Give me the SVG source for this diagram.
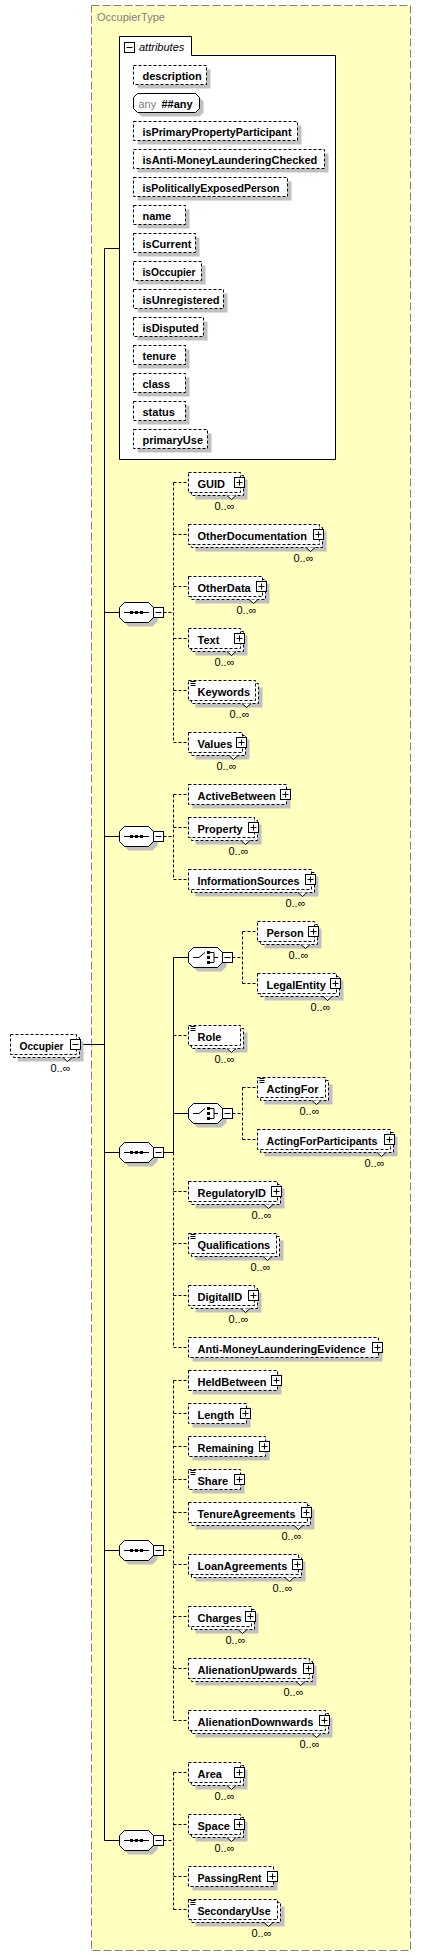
<svg xmlns="http://www.w3.org/2000/svg" width="421" height="1956" viewBox="0 0 421 1956">
<style>
.bx{fill:#fff;stroke:#000;stroke-width:1;stroke-dasharray:3,2}
.ab{fill:#fff;stroke:#000;stroke-width:1}
.shd{fill:#c0c0c0}
.nt{fill:#fff;stroke:#000;stroke-width:1}
.lb{font-family:"Liberation Sans",Arial,sans-serif;font-size:11px;font-weight:bold;fill:#000}
.oc{font-family:"Liberation Sans",Arial,sans-serif;font-size:11px;fill:#000;text-anchor:end}
.sc{fill:none;stroke:#000;stroke-width:1}
.dc{fill:none;stroke:#000;stroke-width:1;stroke-dasharray:3,2}
</style>
<defs>
<g id="pl"><rect x="0" y="0" width="10" height="10" fill="#fff" stroke="#000"/><path d="M2,5H8M5,2V8" stroke="#000" fill="none"/></g>
<g id="mi"><rect x="0" y="0" width="10" height="10" fill="#fff" stroke="#000"/><path d="M2,5H8" stroke="#000" fill="none"/></g>
<path id="doc" d="M2,1h5M2,3h5M2,5h5" stroke="#000" fill="none"/>
<polygon id="oct" points="5,0 29,0 34,5 34,15 29,20 5,20 0,15 0,5"/>
<g id="seq">
<use href="#oct" x="4" y="4" fill="#c0c0c0"/>
<use href="#oct" fill="#fff" stroke="#000"/>
<path d="M4.5,10H29.5" stroke="#000" fill="none"/>
<rect x="10.5" y="8.5" width="3" height="3" fill="#000"/>
<rect x="15.5" y="8.5" width="3" height="3" fill="#000"/>
<rect x="20.5" y="8.5" width="3" height="3" fill="#000"/>
<use href="#mi" x="34" y="5"/>
</g>
<g id="cho">
<use href="#oct" x="4" y="4" fill="#c0c0c0"/>
<use href="#oct" fill="#fff" stroke="#000"/>
<path d="M4.5,10H10.5L16.5,5M21.5,5H25.5V15H21.5M25.5,10H29.5" stroke="#000" fill="none"/>
<rect x="18.5" y="3.5" width="3" height="3" fill="#000"/>
<rect x="18.5" y="8.5" width="3" height="3" fill="#000"/>
<rect x="18.5" y="13.5" width="3" height="3" fill="#000"/>
<use href="#mi" x="34" y="5"/>
</g>
</defs>

<g id="OccupierType">
<rect x="91.5" y="5.5" width="319" height="1945" fill="#ffffc0" stroke="#808080" stroke-dasharray="8,3"/>
<text x="97" y="21" font-family="'Liberation Sans',Arial,sans-serif" font-size="11" fill="#808080">OccupierType</text>
</g>

<g id="connectors">
<path class="sc" d="M104.5,248.5V1840.5M104.5,248.5H119.5M80.5,1044.5H104.5M104.5,612.5H119.5M104.5,836.5H119.5M104.5,1152.5H119.5M104.5,1550.5H119.5M104.5,1840.5H119.5"/>
<path class="dc" d="M163.5,612.5H173.5M173.5,482.5V742.5M173.5,482.5H188.5M173.5,534.5H188.5M173.5,586.5H188.5M173.5,638.5H188.5M173.5,690.5H188.5M173.5,742.5H188.5"/>
<path class="dc" d="M163.5,836.5H173.5M173.5,794.5V879.5M173.5,794.5H188.5M173.5,827.5H188.5M173.5,879.5H188.5"/>
<path class="sc" d="M163.5,1152.5H173.5M173.5,957.5V1152.5M173.5,957.5H188.5M173.5,1113.5H188.5"/>
<path class="dc" d="M173.5,1152.5V1347.5M173.5,1035.5H188.5M173.5,1191.5H188.5M173.5,1243.5H188.5M173.5,1295.5H188.5M173.5,1347.5H188.5"/>
<path class="dc" d="M232.5,957.5H242.5M242.5,931.5V983.5M242.5,931.5H257.5M242.5,983.5H257.5"/>
<path class="dc" d="M232.5,1113.5H242.5M242.5,1087.5V1139.5M242.5,1087.5H257.5M242.5,1139.5H257.5"/>
<path class="dc" d="M163.5,1550.5H173.5M173.5,1380.5V1720.5M173.5,1380.5H188.5M173.5,1413.5H188.5M173.5,1446.5H188.5M173.5,1479.5H188.5M173.5,1512.5H188.5M173.5,1564.5H188.5M173.5,1616.5H188.5M173.5,1668.5H188.5M173.5,1720.5H188.5"/>
<path class="dc" d="M163.5,1840.5H173.5M173.5,1772.5V1909.5M173.5,1772.5H188.5M173.5,1824.5H188.5M173.5,1876.5H188.5M173.5,1909.5H188.5"/>
</g>

<g id="attributes">
<path d="M119.5,459.5V36.5H191.5V55.5H335.5V459.5Z" fill="#fff" stroke="#000"/>
<use href="#mi" x="124.5" y="42.5"/>
<text x="139" y="50.5" font-family="'Liberation Sans',Arial,sans-serif" font-size="11" font-style="italic" fill="#000">attributes</text>
</g>

<g id="a-description"><rect class="shd" x="137.5" y="69.5" width="73" height="19"/><rect class="bx" x="133.5" y="65.5" width="73" height="19"/><text class="lb" x="142.5" y="79.5">description</text></g>
<g id="a-any"><polygon class="shd" points="141.5,97.5 199.5,97.5 203.5,101.5 203.5,112.5 199.5,116.5 141.5,116.5 137.5,112.5 137.5,101.5"/><polygon class="ab" points="137.5,93.5 195.5,93.5 199.5,97.5 199.5,108.5 195.5,112.5 137.5,112.5 133.5,108.5 133.5,97.5"/><text x="138.5" y="107.5" font-family="'Liberation Sans',Arial,sans-serif" font-size="11" fill="#808080">any</text><text class="lb" x="161.5" y="107.5">##any</text></g>
<g id="a-isPrimaryPropertyParticipant"><rect class="shd" x="137.5" y="125.5" width="164" height="19"/><rect class="bx" x="133.5" y="121.5" width="164" height="19"/><text class="lb" x="142.5" y="135.5" textLength="149" lengthAdjust="spacingAndGlyphs">isPrimaryPropertyParticipant</text></g>
<g id="a-isAnti-MoneyLaunderingChecked"><rect class="shd" x="137.5" y="153.5" width="191" height="19"/><rect class="bx" x="133.5" y="149.5" width="191" height="19"/><text class="lb" x="142.5" y="163.5">isAnti-MoneyLaunderingChecked</text></g>
<g id="a-isPoliticallyExposedPerson"><rect class="shd" x="137.5" y="181.5" width="154" height="19"/><rect class="bx" x="133.5" y="177.5" width="154" height="19"/><text class="lb" x="142.5" y="191.5" textLength="137" lengthAdjust="spacingAndGlyphs">isPoliticallyExposedPerson</text></g>
<g id="a-name"><rect class="shd" x="137.5" y="209.5" width="52" height="19"/><rect class="bx" x="133.5" y="205.5" width="52" height="19"/><text class="lb" x="142.5" y="219.5">name</text></g>
<g id="a-isCurrent"><rect class="shd" x="137.5" y="237.5" width="62" height="19"/><rect class="bx" x="133.5" y="233.5" width="62" height="19"/><text class="lb" x="142.5" y="247.5">isCurrent</text></g>
<g id="a-isOccupier"><rect class="shd" x="137.5" y="265.5" width="68" height="19"/><rect class="bx" x="133.5" y="261.5" width="68" height="19"/><text class="lb" x="142.5" y="275.5" textLength="53" lengthAdjust="spacingAndGlyphs">isOccupier</text></g>
<g id="a-isUnregistered"><rect class="shd" x="137.5" y="293.5" width="90" height="19"/><rect class="bx" x="133.5" y="289.5" width="90" height="19"/><text class="lb" x="142.5" y="303.5">isUnregistered</text></g>
<g id="a-isDisputed"><rect class="shd" x="137.5" y="321.5" width="70" height="19"/><rect class="bx" x="133.5" y="317.5" width="70" height="19"/><text class="lb" x="142.5" y="331.5">isDisputed</text></g>
<g id="a-tenure"><rect class="shd" x="137.5" y="349.5" width="52" height="19"/><rect class="bx" x="133.5" y="345.5" width="52" height="19"/><text class="lb" x="142.5" y="359.5">tenure</text></g>
<g id="a-class"><rect class="shd" x="137.5" y="377.5" width="52" height="19"/><rect class="bx" x="133.5" y="373.5" width="52" height="19"/><text class="lb" x="142.5" y="387.5">class</text></g>
<g id="a-status"><rect class="shd" x="137.5" y="405.5" width="52" height="19"/><rect class="bx" x="133.5" y="401.5" width="52" height="19"/><text class="lb" x="142.5" y="415.5">status</text></g>
<g id="a-primaryUse"><rect class="shd" x="137.5" y="433.5" width="74" height="19"/><rect class="bx" x="133.5" y="429.5" width="74" height="19"/><text class="lb" x="142.5" y="443.5">primaryUse</text></g>

<g id="Occupier"><rect class="shd" x="17.5" y="1041.5" width="66" height="20"/><rect class="bx" x="13.5" y="1037.5" width="66" height="20"/><path class="nt" d="M63,1057.5l4.5,4l4.5,-4"/><rect class="bx" x="10.5" y="1034.5" width="66" height="20"/><text class="lb" x="19.5" y="1049.5" textLength="44" lengthAdjust="spacingAndGlyphs">Occupier</text><use href="#mi" x="70.5" y="1039.5"/><text class="oc" x="70.5" y="1071.5">0..∞</text></g>

<g id="seq1"><use href="#seq" x="119.5" y="602.5"/></g>
<g id="seq2"><use href="#seq" x="119.5" y="826.5"/></g>
<g id="seq3"><use href="#seq" x="119.5" y="1142.5"/></g>
<g id="seq4"><use href="#seq" x="119.5" y="1540.5"/></g>
<g id="seq5"><use href="#seq" x="119.5" y="1830.5"/></g>
<g id="choice1"><use href="#cho" x="188.5" y="947.5"/></g>
<g id="choice2"><use href="#cho" x="188.5" y="1103.5"/></g>

<g id="GUID"><rect class="shd" x="195.5" y="479.5" width="52" height="20"/><rect class="bx" x="191.5" y="475.5" width="52" height="20"/><path class="nt" d="M227,495.5l4.5,4l4.5,-4"/><rect class="bx" x="188.5" y="472.5" width="52" height="20"/><text class="lb" x="197.5" y="487.5">GUID</text><use href="#pl" x="234.5" y="477.5"/><text class="oc" x="234.5" y="509.5">0..∞</text></g>
<g id="OtherDocumentation"><rect class="shd" x="195.5" y="531.5" width="131" height="20"/><rect class="bx" x="191.5" y="527.5" width="131" height="20"/><path class="nt" d="M306,547.5l4.5,4l4.5,-4"/><rect class="bx" x="188.5" y="524.5" width="131" height="20"/><text class="lb" x="197.5" y="539.5">OtherDocumentation</text><use href="#pl" x="313.5" y="529.5"/><text class="oc" x="313.5" y="561.5">0..∞</text></g>
<g id="OtherData"><rect class="shd" x="195.5" y="583.5" width="74" height="20"/><rect class="bx" x="191.5" y="579.5" width="74" height="20"/><path class="nt" d="M249,599.5l4.5,4l4.5,-4"/><rect class="bx" x="188.5" y="576.5" width="74" height="20"/><text class="lb" x="197.5" y="591.5">OtherData</text><use href="#pl" x="256.5" y="581.5"/><text class="oc" x="256.5" y="613.5">0..∞</text></g>
<g id="Text"><rect class="shd" x="195.5" y="635.5" width="52" height="20"/><rect class="bx" x="191.5" y="631.5" width="52" height="20"/><path class="nt" d="M227,651.5l4.5,4l4.5,-4"/><rect class="bx" x="188.5" y="628.5" width="52" height="20"/><text class="lb" x="197.5" y="643.5">Text</text><use href="#pl" x="234.5" y="633.5"/><text class="oc" x="234.5" y="665.5">0..∞</text></g>
<g id="Keywords"><rect class="shd" x="195.5" y="687.5" width="67" height="20"/><rect class="bx" x="191.5" y="683.5" width="67" height="20"/><path class="nt" d="M242,703.5l4.5,4l4.5,-4"/><rect class="bx" x="188.5" y="680.5" width="67" height="20"/><use href="#doc" x="188.5" y="680.5"/><text class="lb" x="197.5" y="695.5">Keywords</text><text class="oc" x="249.5" y="717.5">0..∞</text></g>
<g id="Values"><rect class="shd" x="195.5" y="739.5" width="54" height="20"/><rect class="bx" x="191.5" y="735.5" width="54" height="20"/><path class="nt" d="M229,755.5l4.5,4l4.5,-4"/><rect class="bx" x="188.5" y="732.5" width="54" height="20"/><text class="lb" x="197.5" y="747.5">Values</text><use href="#pl" x="236.5" y="737.5"/><text class="oc" x="236.5" y="769.5">0..∞</text></g>

<g id="ActiveBetween"><rect class="shd" x="192.5" y="788.5" width="98" height="20"/><rect class="bx" x="188.5" y="784.5" width="98" height="20"/><text class="lb" x="197.5" y="799.5">ActiveBetween</text><use href="#pl" x="280.5" y="789.5"/></g>
<g id="Property"><rect class="shd" x="195.5" y="824.5" width="66" height="20"/><rect class="bx" x="191.5" y="820.5" width="66" height="20"/><path class="nt" d="M241,840.5l4.5,4l4.5,-4"/><rect class="bx" x="188.5" y="817.5" width="66" height="20"/><text class="lb" x="197.5" y="832.5">Property</text><use href="#pl" x="248.5" y="822.5"/><text class="oc" x="248.5" y="854.5">0..∞</text></g>
<g id="InformationSources"><rect class="shd" x="195.5" y="876.5" width="123" height="20"/><rect class="bx" x="191.5" y="872.5" width="123" height="20"/><path class="nt" d="M298,892.5l4.5,4l4.5,-4"/><rect class="bx" x="188.5" y="869.5" width="123" height="20"/><text class="lb" x="197.5" y="884.5" textLength="102" lengthAdjust="spacingAndGlyphs">InformationSources</text><use href="#pl" x="305.5" y="874.5"/><text class="oc" x="305.5" y="906.5">0..∞</text></g>

<g id="Person"><rect class="shd" x="264.5" y="928.5" width="57" height="20"/><rect class="bx" x="260.5" y="924.5" width="57" height="20"/><path class="nt" d="M301,944.5l4.5,4l4.5,-4"/><rect class="bx" x="257.5" y="921.5" width="57" height="20"/><text class="lb" x="266.5" y="936.5">Person</text><use href="#pl" x="308.5" y="926.5"/><text class="oc" x="308.5" y="958.5">0..∞</text></g>
<g id="LegalEntity"><rect class="shd" x="264.5" y="980.5" width="79" height="20"/><rect class="bx" x="260.5" y="976.5" width="79" height="20"/><path class="nt" d="M323,996.5l4.5,4l4.5,-4"/><rect class="bx" x="257.5" y="973.5" width="79" height="20"/><text class="lb" x="266.5" y="988.5">LegalEntity</text><use href="#pl" x="330.5" y="978.5"/><text class="oc" x="330.5" y="1010.5">0..∞</text></g>
<g id="Role"><rect class="shd" x="195.5" y="1032.5" width="52" height="20"/><rect class="bx" x="191.5" y="1028.5" width="52" height="20"/><path class="nt" d="M227,1048.5l4.5,4l4.5,-4"/><rect class="bx" x="188.5" y="1025.5" width="52" height="20"/><use href="#doc" x="188.5" y="1025.5"/><text class="lb" x="197.5" y="1040.5">Role</text><text class="oc" x="234.5" y="1062.5">0..∞</text></g>
<g id="ActingFor"><rect class="shd" x="264.5" y="1084.5" width="68" height="20"/><rect class="bx" x="260.5" y="1080.5" width="68" height="20"/><path class="nt" d="M312,1100.5l4.5,4l4.5,-4"/><rect class="bx" x="257.5" y="1077.5" width="68" height="20"/><use href="#doc" x="257.5" y="1077.5"/><text class="lb" x="266.5" y="1092.5">ActingFor</text><text class="oc" x="319.5" y="1114.5">0..∞</text></g>
<g id="ActingForParticipants"><rect class="shd" x="264.5" y="1136.5" width="133" height="20"/><rect class="bx" x="260.5" y="1132.5" width="133" height="20"/><path class="nt" d="M377,1152.5l4.5,4l4.5,-4"/><rect class="bx" x="257.5" y="1129.5" width="133" height="20"/><text class="lb" x="266.5" y="1144.5" textLength="111" lengthAdjust="spacingAndGlyphs">ActingForParticipants</text><use href="#pl" x="384.5" y="1134.5"/><text class="oc" x="384.5" y="1166.5">0..∞</text></g>
<g id="RegulatoryID"><rect class="shd" x="195.5" y="1188.5" width="89" height="20"/><rect class="bx" x="191.5" y="1184.5" width="89" height="20"/><path class="nt" d="M264,1204.5l4.5,4l4.5,-4"/><rect class="bx" x="188.5" y="1181.5" width="89" height="20"/><text class="lb" x="197.5" y="1196.5">RegulatoryID</text><use href="#pl" x="271.5" y="1186.5"/><text class="oc" x="271.5" y="1218.5">0..∞</text></g>
<g id="Qualifications"><rect class="shd" x="195.5" y="1240.5" width="88" height="20"/><rect class="bx" x="191.5" y="1236.5" width="88" height="20"/><path class="nt" d="M263,1256.5l4.5,4l4.5,-4"/><rect class="bx" x="188.5" y="1233.5" width="88" height="20"/><use href="#doc" x="188.5" y="1233.5"/><text class="lb" x="197.5" y="1248.5">Qualifications</text><text class="oc" x="270.5" y="1270.5">0..∞</text></g>
<g id="DigitalID"><rect class="shd" x="195.5" y="1292.5" width="66" height="20"/><rect class="bx" x="191.5" y="1288.5" width="66" height="20"/><path class="nt" d="M241,1308.5l4.5,4l4.5,-4"/><rect class="bx" x="188.5" y="1285.5" width="66" height="20"/><text class="lb" x="197.5" y="1300.5">DigitalID</text><use href="#pl" x="248.5" y="1290.5"/><text class="oc" x="248.5" y="1322.5">0..∞</text></g>
<g id="Anti-MoneyLaunderingEvidence"><rect class="shd" x="192.5" y="1341.5" width="190" height="20"/><rect class="bx" x="188.5" y="1337.5" width="190" height="20"/><text class="lb" x="197.5" y="1352.5">Anti-MoneyLaunderingEvidence</text><use href="#pl" x="372.5" y="1342.5"/></g>

<g id="HeldBetween"><rect class="shd" x="192.5" y="1374.5" width="89" height="20"/><rect class="bx" x="188.5" y="1370.5" width="89" height="20"/><text class="lb" x="197.5" y="1385.5">HeldBetween</text><use href="#pl" x="271.5" y="1375.5"/></g>
<g id="Length"><rect class="shd" x="192.5" y="1407.5" width="58" height="20"/><rect class="bx" x="188.5" y="1403.5" width="58" height="20"/><text class="lb" x="197.5" y="1418.5">Length</text><use href="#pl" x="240.5" y="1408.5"/></g>
<g id="Remaining"><rect class="shd" x="192.5" y="1440.5" width="77" height="20"/><rect class="bx" x="188.5" y="1436.5" width="77" height="20"/><text class="lb" x="197.5" y="1451.5">Remaining</text><use href="#pl" x="259.5" y="1441.5"/></g>
<g id="Share"><rect class="shd" x="192.5" y="1473.5" width="52" height="20"/><rect class="bx" x="188.5" y="1469.5" width="52" height="20"/><use href="#doc" x="188.5" y="1469.5"/><text class="lb" x="197.5" y="1484.5">Share</text><use href="#pl" x="234.5" y="1474.5"/></g>
<g id="TenureAgreements"><rect class="shd" x="195.5" y="1509.5" width="119" height="20"/><rect class="bx" x="191.5" y="1505.5" width="119" height="20"/><path class="nt" d="M294,1525.5l4.5,4l4.5,-4"/><rect class="bx" x="188.5" y="1502.5" width="119" height="20"/><text class="lb" x="197.5" y="1517.5" textLength="98" lengthAdjust="spacingAndGlyphs">TenureAgreements</text><use href="#pl" x="301.5" y="1507.5"/><text class="oc" x="301.5" y="1539.5">0..∞</text></g>
<g id="LoanAgreements"><rect class="shd" x="195.5" y="1561.5" width="110" height="20"/><rect class="bx" x="191.5" y="1557.5" width="110" height="20"/><path class="nt" d="M285,1577.5l4.5,4l4.5,-4"/><rect class="bx" x="188.5" y="1554.5" width="110" height="20"/><text class="lb" x="197.5" y="1569.5">LoanAgreements</text><use href="#pl" x="292.5" y="1559.5"/><text class="oc" x="292.5" y="1591.5">0..∞</text></g>
<g id="Charges"><rect class="shd" x="195.5" y="1613.5" width="63" height="20"/><rect class="bx" x="191.5" y="1609.5" width="63" height="20"/><path class="nt" d="M238,1629.5l4.5,4l4.5,-4"/><rect class="bx" x="188.5" y="1606.5" width="63" height="20"/><text class="lb" x="197.5" y="1621.5">Charges</text><use href="#pl" x="245.5" y="1611.5"/><text class="oc" x="245.5" y="1643.5">0..∞</text></g>
<g id="AlienationUpwards"><rect class="shd" x="195.5" y="1665.5" width="121" height="20"/><rect class="bx" x="191.5" y="1661.5" width="121" height="20"/><path class="nt" d="M296,1681.5l4.5,4l4.5,-4"/><rect class="bx" x="188.5" y="1658.5" width="121" height="20"/><text class="lb" x="197.5" y="1673.5">AlienationUpwards</text><use href="#pl" x="303.5" y="1663.5"/><text class="oc" x="303.5" y="1695.5">0..∞</text></g>
<g id="AlienationDownwards"><rect class="shd" x="195.5" y="1717.5" width="137" height="20"/><rect class="bx" x="191.5" y="1713.5" width="137" height="20"/><path class="nt" d="M312,1733.5l4.5,4l4.5,-4"/><rect class="bx" x="188.5" y="1710.5" width="137" height="20"/><text class="lb" x="197.5" y="1725.5" textLength="116" lengthAdjust="spacingAndGlyphs">AlienationDownwards</text><use href="#pl" x="319.5" y="1715.5"/><text class="oc" x="319.5" y="1747.5">0..∞</text></g>

<g id="Area"><rect class="shd" x="195.5" y="1769.5" width="52" height="20"/><rect class="bx" x="191.5" y="1765.5" width="52" height="20"/><path class="nt" d="M227,1785.5l4.5,4l4.5,-4"/><rect class="bx" x="188.5" y="1762.5" width="52" height="20"/><text class="lb" x="197.5" y="1777.5">Area</text><use href="#pl" x="234.5" y="1767.5"/><text class="oc" x="234.5" y="1799.5">0..∞</text></g>
<g id="Space"><rect class="shd" x="195.5" y="1821.5" width="52" height="20"/><rect class="bx" x="191.5" y="1817.5" width="52" height="20"/><path class="nt" d="M227,1837.5l4.5,4l4.5,-4"/><rect class="bx" x="188.5" y="1814.5" width="52" height="20"/><text class="lb" x="197.5" y="1829.5">Space</text><use href="#pl" x="234.5" y="1819.5"/><text class="oc" x="234.5" y="1851.5">0..∞</text></g>
<g id="PassingRent"><rect class="shd" x="192.5" y="1870.5" width="85" height="20"/><rect class="bx" x="188.5" y="1866.5" width="85" height="20"/><text class="lb" x="197.5" y="1881.5" textLength="64" lengthAdjust="spacingAndGlyphs">PassingRent</text><use href="#pl" x="267.5" y="1871.5"/></g>
<g id="SecondaryUse"><rect class="shd" x="195.5" y="1906.5" width="89" height="20"/><rect class="bx" x="191.5" y="1902.5" width="89" height="20"/><path class="nt" d="M264,1922.5l4.5,4l4.5,-4"/><rect class="bx" x="188.5" y="1899.5" width="89" height="20"/><use href="#doc" x="188.5" y="1899.5"/><text class="lb" x="197.5" y="1914.5" textLength="73" lengthAdjust="spacingAndGlyphs">SecondaryUse</text><text class="oc" x="271.5" y="1936.5">0..∞</text></g>
</svg>
